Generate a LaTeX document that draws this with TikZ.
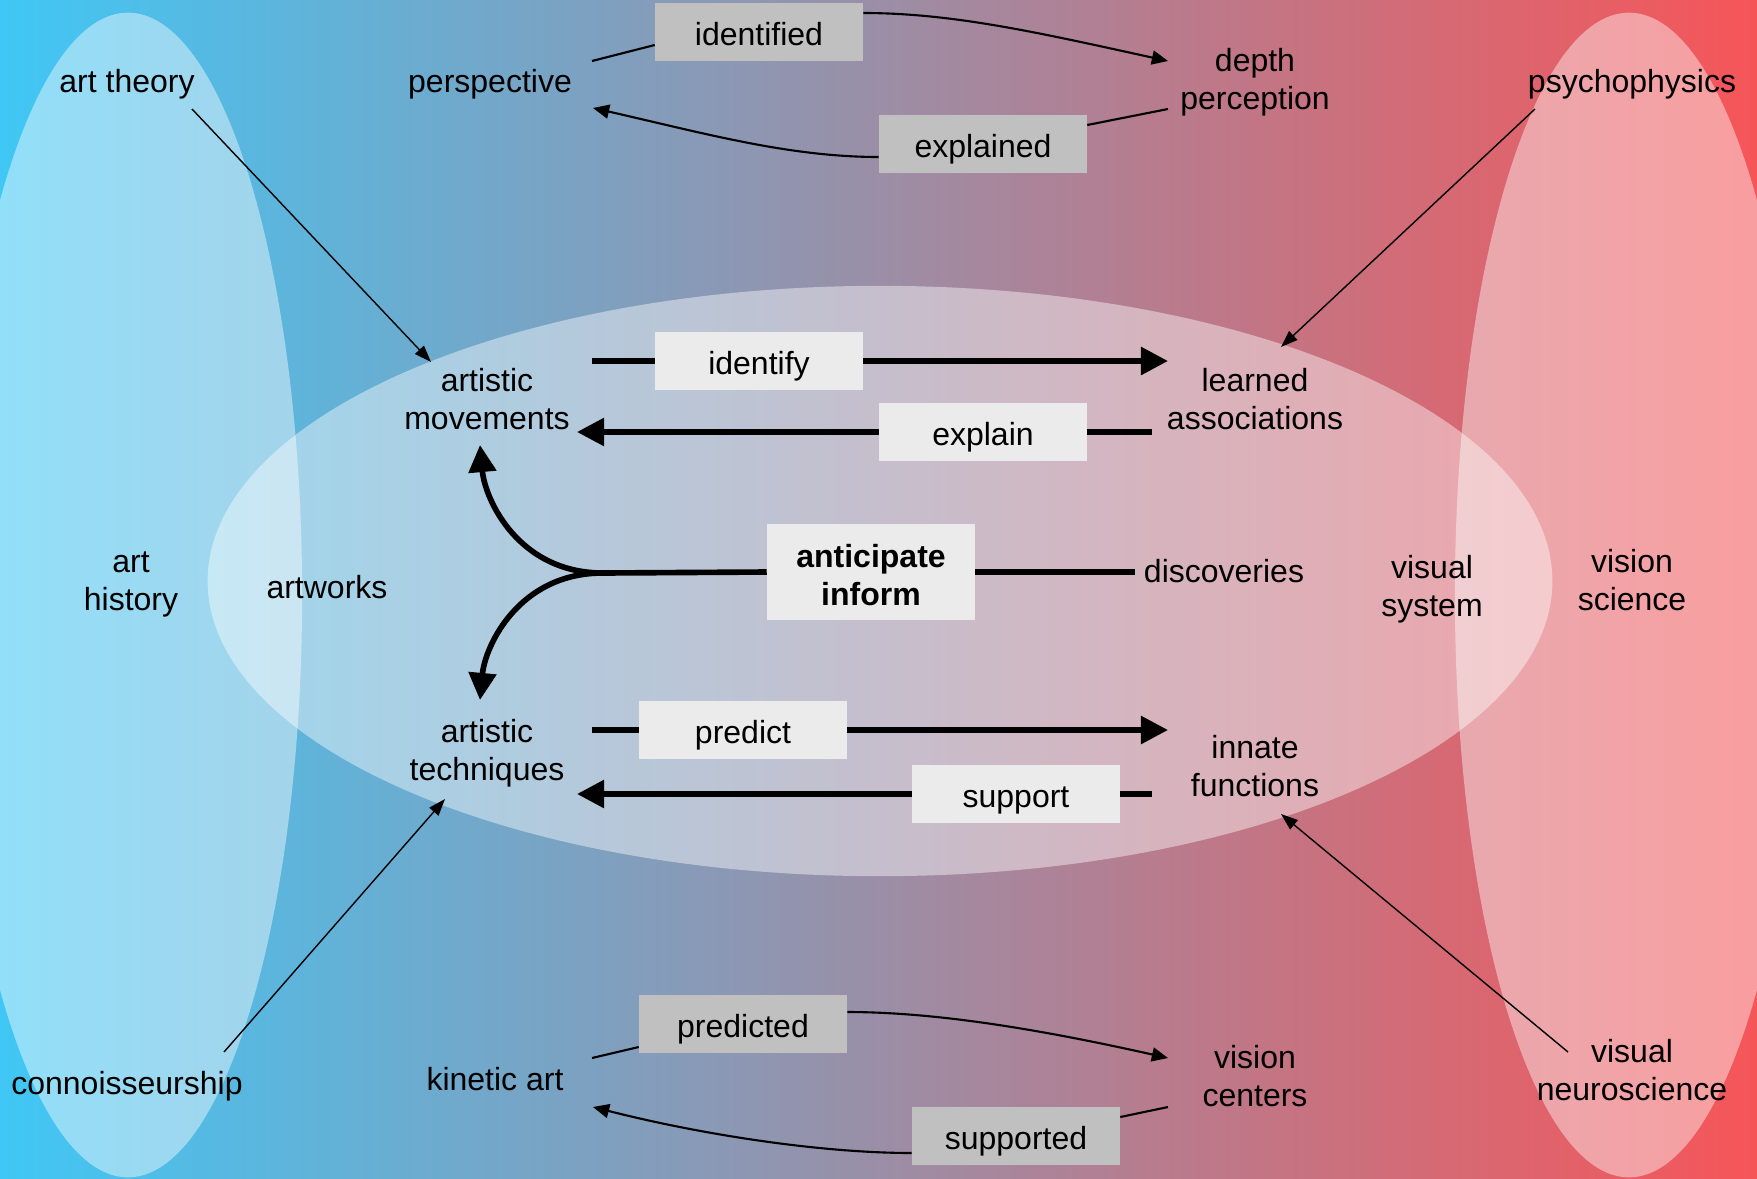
\documentclass[tikz,border=0pt]{standalone}
\usepackage{fontspec}
\setmainfont{Liberation Sans}
\usetikzlibrary{arrows.meta,calc}
\definecolor{bgL}{RGB}{64,199,245}
\definecolor{bgR}{RGB}{246,85,88}
\definecolor{boxD}{RGB}{192,192,192}
\definecolor{boxL}{RGB}{235,235,235}
\begin{document}
\begin{tikzpicture}[x=0.01cm,y=-0.01cm,
  lbl/.style={font=\fontsize{9.1}{10.8}\selectfont, align=center, inner sep=0pt},
  tbox/.style={lbl, minimum width=2.07cm, minimum height=0.58cm},
  dbox/.style={tbox, fill=boxD, text height=7.7pt, text depth=0pt},
  lbox/.style={tbox, fill=boxL, text height=7.7pt, text depth=0pt},
  abox/.style={tbox, fill=boxL, minimum height=0.96cm},
  topArr/.style={line width=0.6pt, -{Triangle[length=4.6pt,width=4pt]}},
  plainLn/.style={line width=0.6pt},
  thickLn/.style={line width=1.6pt},
  thickArr/.style={line width=1.6pt, -{Triangle[length=7.7pt,width=7.7pt]}},
  diagArr/.style={line width=0.4pt, -{Triangle[length=4.8pt,width=3.4pt]}},
  halo/.style={fill=white, fill opacity=0.43}
]
\shade[left color=bgL, right color=bgR] (0,0) rectangle (1757,1178);
\useasboundingbox (0,0) rectangle (1757,1178);
\begin{scope}
  \clip (0,0) rectangle (1757,1178);
  \fill[halo] (128,595) ellipse [x radius=1.74cm, y radius=5.82cm];
  \fill[halo] (1629,595) ellipse [x radius=1.74cm, y radius=5.82cm];
  \fill[halo] (880,581) ellipse [x radius=6.72cm, y radius=2.95cm];
\end{scope}

% nodes
\node[lbl] (arttheory) at (127,84) {art theory};
\node[lbl] (persp) at (490,84) {perspective};
\node[dbox] (identified) at (759,32) {identified};
\node[lbl] (depth) at (1255,82) {depth\\perception};
\node[dbox] (explained) at (983,144) {explained};
\node[lbl] (psycho) at (1632,84) {psychophysics};
\node[lbl] (movements) at (487,399) {artistic\\movements};
\node[lbox] (identify) at (759,361) {identify};
\node[lbl] (learned) at (1255,399) {learned\\associations};
\node[lbox] (explain) at (983,432) {explain};
\node[lbl] (arthist) at (131,584) {art\\history};
\node[lbl] (artworks) at (327,587) {artworks};
\node[abox, font=\fontsize{9.1}{10.8}\selectfont\bfseries] (antic) at (871,572) {\rule{0pt}{8.3pt}anticipate\\inform};
\node[lbl] (discov) at (1224,571) {discoveries};
\node[lbl] (vissys) at (1432,589) {visual\\system};
\node[lbl] (visci) at (1632,580) {vision\\science};
\node[lbl] (techniques) at (487,753) {artistic\\techniques};
\node[lbox] (predict) at (743,730) {predict};
\node[lbl] (innate) at (1255,766) {innate\\functions};
\node[lbox] (support) at (1016,794) {support};
\node[lbl] (connoiss) at (127,1086) {connoisseurship};
\node[lbl] (kinetic) at (495,1079) {kinetic art};
\node[dbox] (predicted) at (743,1024) {predicted};
\node[lbl] (centers) at (1255,1076) {vision\\centers};
\node[dbox] (supported) at (1016,1136) {supported};
\node[lbl] (neuro) at (1632,1070) {visual\\neuroscience};

% top connectors
\draw[plainLn] ($(persp.center)+(102,-23)$) -- ($(identified.west)+(0,13)$);
\draw[topArr] ($(identified.east)+(0,-19)$) .. controls +(90,0) and +(-128,-28) .. ($(depth.center)+(-87,-21)$);
\draw[plainLn] ($(depth.center)+(-87,27)$) -- ($(explained.east)+(0,-19)$);
\draw[topArr] ($(explained.west)+(0,13)$) .. controls +(-90,0) and +(110,25) .. ($(persp.center)+(103,24)$);

% middle connectors
\draw[thickLn] ($(movements.center)+(105,-38)$) -- (identify.west);
\draw[thickArr] (identify.east) -- ($(learned.center)+(-87,-38)$);
\draw[thickLn] ($(learned.center)+(-103,33)$) -- (explain.east);
\draw[thickArr] (explain.west) -- ($(movements.center)+(90,33)$);
\draw[thickLn] (antic.east) -- ($(discov.center)+(-89,1)$);
\coordinate (fork) at ($(antic.west)+(-164,1)$);
\draw[thickLn] (antic.west) -- (fork);
\draw[thickArr] (fork) .. controls +(-84,0) and +(5,55) .. ($(movements.center)+(-7,46)$);
\draw[thickArr] (fork) .. controls +(-84,0) and +(5,-54) .. ($(techniques.center)+(-7,-53)$);
\draw[thickLn] ($(techniques.center)+(105,-23)$) -- (predict.west);
\draw[thickArr] (predict.east) -- ($(innate.center)+(-87,-36)$);
\draw[thickLn] ($(innate.center)+(-103,28)$) -- (support.east);
\draw[thickArr] (support.west) -- ($(techniques.center)+(90,41)$);

% bottom connectors
\draw[plainLn] ($(kinetic.center)+(97,-21)$) -- ($(predicted.west)+(0,23)$);
\draw[topArr] ($(predicted.east)+(0,-12)$) .. controls +(90,0) and +(-125,-28) .. ($(centers.center)+(-87,-18)$);
\draw[plainLn] ($(centers.center)+(-87,31)$) -- ($(supported.east)+(0,-19)$);
\draw[topArr] ($(supported.west)+(0,17)$) .. controls +(-90,0) and +(110,28) .. ($(kinetic.center)+(98,28)$);

% diagonal connectors
\draw[diagArr] ($(arttheory.center)+(65,25)$) -- ($(movements.center)+(-56,-37)$);
\draw[diagArr] ($(psycho.center)+(-97,25)$) -- ($(learned.center)+(26,-52)$);
\draw[diagArr] ($(connoiss.center)+(97,-34)$) -- ($(techniques.center)+(-42,46)$);
\draw[diagArr] ($(neuro.center)+(-64,-18)$) -- ($(innate.center)+(26,48)$);
\end{tikzpicture}
\end{document}
